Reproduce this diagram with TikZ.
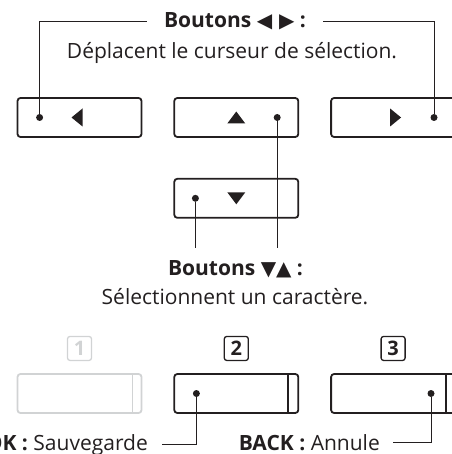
\documentclass[tikz,border=0pt]{standalone}
\usepackage{fontspec}
\setmainfont{Open Sans}
\newfontfamily\symfont{DejaVu Sans}
\usetikzlibrary{positioning, calc}
\definecolor{ink}{HTML}{231F20}
\definecolor{faint}{HTML}{D1D3D4}

\begin{document}
\begin{tikzpicture}[x=1pt, y=-1pt, node distance=31pt and 31pt, font=\fontsize{21}{25}\selectfont, text=ink]
    \tikzstyle{btn} = [rectangle, draw=ink, line width=1.8pt, rounded corners=3pt, minimum width=124pt, minimum height=39pt, inner sep=0pt]
    \tikzstyle{numbox} = [rectangle, draw=ink, line width=1.3pt, rounded corners=2.5pt, minimum size=24pt, inner sep=0pt, font=\fontsize{20}{20}\selectfont\bfseries]
    \tikzstyle{dot} = [circle, fill=ink, inner sep=0pt, minimum size=7pt]
    \tikzstyle{lead} = [line width=1pt, draw=ink]
    \tikzstyle{caption} = [anchor=base, inner sep=0pt]

    \useasboundingbox (0,0) rectangle (451,454);

    % Buttons
    \node [btn] (bleft) at (79.5,117.5) {};
    \node [btn, right=31pt of bleft] (bup) {};
    \node [btn, right=31pt of bup] (bright) {};
    \node [btn, below=40pt of bup] (bdown) {};

    \node [btn, draw=faint] (fone) at (79.5,393.5) {};
    \node [btn, right=31pt of fone] (ftwo) {};
    \node [btn, right=31pt of ftwo] (fthree) {};
    \draw [faint, line width=1.8pt] ([xshift=-10pt]fone.north east) -- ([xshift=-10pt]fone.south east);
    \draw [ink, line width=1.8pt] ([xshift=-11pt]ftwo.north east) -- ([xshift=-11pt]ftwo.south east);
    \draw [ink, line width=1.8pt] ([xshift=-10pt]fthree.north east) -- ([xshift=-10pt]fthree.south east);

    \node [numbox, draw=faint, text=faint, above=12pt of fone] (kone) {1};
    \node [numbox, above=12pt of ftwo] (ktwo) {2};
    \node [numbox, above=12pt of fthree] (kthree) {3};

    % Arrow marks
    \fill [ink] ($(bleft)+(-8,0)$) -- ++(11,-9) -- ++(0,18) -- cycle;
    \fill [ink] ($(bup)+(-9,6)$) -- ++(18,0) -- ++(-9,-12) -- cycle;
    \fill [ink] ($(bright)+(8,0)$) -- ++(-11,-9) -- ++(0,18) -- cycle;
    \fill [ink] ($(bdown)+(-9,-6)$) -- ++(18,0) -- ++(-9,12) -- cycle;

    % Dots
    \node [dot] (dleft) at ($(bleft.west)+(23,0)$) {};
    \node [dot] (dup) at ($(bup.east)+(-22,0)$) {};
    \node [dot] (dright) at ($(bright.east)+(-22,0)$) {};
    \node [dot] (ddown) at ($(bdown.west)+(22,0)$) {};
    \node [dot] (dtwo) at ($(ftwo.west)+(23,0)$) {};
    \node [dot] (dthree) at ($(fthree.east)+(-25,0)$) {};

    % Labels
    \node [caption, inner xsep=17pt, font=\fontsize{21}{25}\selectfont\bfseries] (lrtitle) at (235,28) {Boutons {\symfont\fontsize{20}{20}\selectfont ◀ ▶} :};
    \node [caption] (lrtext) at (232,59) {Déplacent le curseur de sélection.};
    \node [caption, font=\fontsize{21}{25}\selectfont\bfseries] (udtitle) at (235.5,275) {Boutons {\symfont\fontsize{20}{20}\selectfont ▼▲} :};
    \node [caption] (udtext) at (235,304) {Sélectionnent un caractère.};
    \node [caption, anchor=base east, inner xsep=14pt] (oklabel) at (162,450) {\textbf{OK :} Sauvegarde};
    \node [caption, anchor=base east, inner xsep=13pt] (backlabel) at (393,450) {\textbf{BACK :} Annule};
    \coordinate (udend) at (235,248);

    % Connections
    \draw [lead] (dleft) |- (lrtitle.west);
    \draw [lead] (dright) |- (lrtitle.east);
    \draw [lead] (dup) -- (dup |- udend);
    \draw [lead] (ddown) -- (ddown |- udend);
    \draw [lead] (dtwo) |- (oklabel.east);
    \draw [lead] (dthree) |- (backlabel.east);
\end{tikzpicture}
\end{document}
